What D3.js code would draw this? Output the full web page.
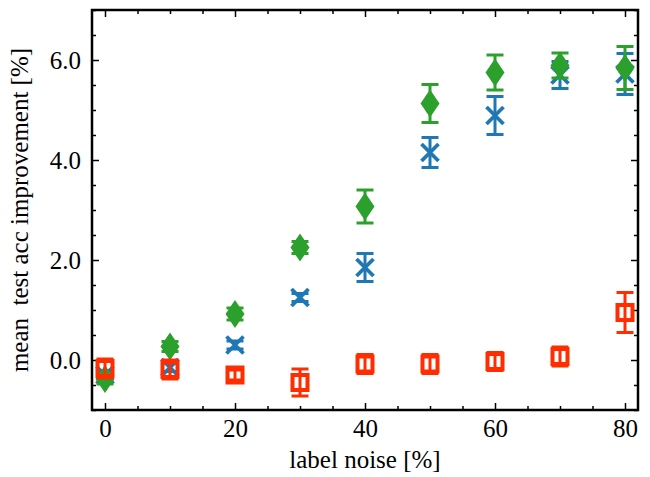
<!DOCTYPE html>
<html>
<head>
<meta charset="utf-8">
<script src="https://cdn.jsdelivr.net/npm/d3@7"></script>
<style>
  html, body { margin: 0; padding: 0; background: #fff; }
  svg { display: block; }
  text { font-family: "Liberation Serif", "DejaVu Serif", serif; fill: #000; }
</style>
</head>
<body>
<script>
const noise = [0, 10, 20, 30, 40, 50, 60, 70, 80];
const blueMean = [-0.30, -0.15, 0.30, 1.25, 1.85, 4.15, 4.89, 5.70, 5.72];
const blueErr  = [0.08, 0.08, 0.08, 0.08, 0.28, 0.30, 0.38, 0.27, 0.41];
const greenMean = [-0.38, 0.27, 0.92, 2.25, 3.07, 5.13, 5.75, 5.89, 5.84];
const greenErr  = [0.10, 0.10, 0.12, 0.12, 0.33, 0.38, 0.35, 0.25, 0.43];
const redMean = [-0.17, -0.19, -0.30, -0.45, -0.08, -0.08, -0.03, 0.07, 0.95];
const redErr  = [0.19, 0.19, 0.10, 0.27, 0.19, 0.19, 0.18, 0.19, 0.40];
const xTicks = [0, 20, 40, 60, 80];
const yTicks = [0, 2, 4, 6];
const xLabel = "label noise [%]";
const yLabel = "mean  test acc improvement [%]";

const W = 650, H = 477;
const m = { left: 92, right: 12, top: 10, bottom: 67 };
const iw = W - m.left - m.right, ih = H - m.top - m.bottom;

const svg = d3.select("body").append("svg").attr("width", W).attr("height", H);
const g = svg.append("g").attr("transform", `translate(${m.left},${m.top})`);

const x = d3.scaleLinear().domain([-2, 82]).range([0, iw]);
const y = d3.scaleLinear().domain([-1, 7]).range([ih, 0]);

const xMinor = d3.range(0, 81, 5).filter(v => !xTicks.includes(v));
const yMinor = d3.range(-1, 7.01, 0.5).filter(v => !yTicks.includes(v));

function styleAxis(sel) {
  sel.select(".domain").remove();
  sel.selectAll(".tick line").attr("stroke", "#000").attr("stroke-width", 1.5);
}

// major/minor ticks (inward) on all sides
g.append("g").attr("transform", `translate(0,${ih})`)
  .call(d3.axisBottom(x).tickValues(xTicks).tickSize(-7).tickPadding(9).tickFormat(d3.format("d")))
  .call(styleAxis)
  .selectAll("text").attr("font-size", 25).attr("dy", "0.71em");
g.append("g").attr("transform", `translate(0,${ih})`)
  .call(d3.axisBottom(x).tickValues(xMinor).tickSize(-4).tickFormat(""))
  .call(styleAxis);
g.append("g")
  .call(d3.axisTop(x).tickValues(xTicks).tickSize(-7).tickFormat(""))
  .call(styleAxis);
g.append("g")
  .call(d3.axisTop(x).tickValues(xMinor).tickSize(-4).tickFormat(""))
  .call(styleAxis);

g.append("g")
  .call(d3.axisLeft(y).tickValues(yTicks).tickSize(-7).tickPadding(11).tickFormat(d3.format(".1f")))
  .call(styleAxis)
  .selectAll("text").attr("font-size", 25);
g.append("g")
  .call(d3.axisLeft(y).tickValues(yMinor).tickSize(-4).tickFormat(""))
  .call(styleAxis);
g.append("g").attr("transform", `translate(${iw},0)`)
  .call(d3.axisRight(y).tickValues(yTicks).tickSize(-7).tickFormat(""))
  .call(styleAxis);
g.append("g").attr("transform", `translate(${iw},0)`)
  .call(d3.axisRight(y).tickValues(yMinor).tickSize(-4).tickFormat(""))
  .call(styleAxis);

// frame
g.append("rect").attr("x", 0).attr("y", 0).attr("width", iw).attr("height", ih)
  .attr("fill", "none").attr("stroke", "#000").attr("stroke-width", 2.5);

// series
function drawSeries(mean, err, color, marker) {
  const data = noise.map((n, i) => ({ n, v: mean[i], e: err[i] }));
  const s = g.append("g");
  const cap = 8.5;
  const eb = s.selectAll("g.eb").data(data).join("g").attr("class", "eb");
  eb.append("line")
    .attr("x1", d => x(d.n)).attr("x2", d => x(d.n))
    .attr("y1", d => y(d.v - d.e)).attr("y2", d => y(d.v + d.e))
    .attr("stroke", color).attr("stroke-width", 3);
  eb.append("line")
    .attr("x1", d => x(d.n) - cap).attr("x2", d => x(d.n) + cap)
    .attr("y1", d => y(d.v + d.e)).attr("y2", d => y(d.v + d.e))
    .attr("stroke", color).attr("stroke-width", 3);
  eb.append("line")
    .attr("x1", d => x(d.n) - cap).attr("x2", d => x(d.n) + cap)
    .attr("y1", d => y(d.v - d.e)).attr("y2", d => y(d.v - d.e))
    .attr("stroke", color).attr("stroke-width", 3);

  const mk = s.selectAll("g.mk").data(data).join("g").attr("class", "mk")
    .attr("transform", d => `translate(${x(d.n)},${y(d.v)})`);
  if (marker === "x") {
    const r = 8.5;
    mk.append("path").attr("d", `M${-r},${-r}L${r},${r}M${-r},${r}L${r},${-r}`)
      .attr("stroke", color).attr("stroke-width", 3.8).attr("fill", "none");
  } else if (marker === "d") {
    mk.append("path").attr("d", "M0,-14L9.5,0L0,14L-9.5,0Z").attr("fill", color);
  } else {
    mk.append("rect").attr("x", -7.5).attr("y", -7.5).attr("width", 15).attr("height", 15)
      .attr("fill", "none").attr("stroke", color).attr("stroke-width", 4);
  }
}
drawSeries(blueMean, blueErr, "#1f77b4", "x");
drawSeries(greenMean, greenErr, "#2ca02c", "d");
drawSeries(redMean, redErr, "#ff2d00", "s");

// axis labels
svg.append("text").attr("x", m.left + iw / 2).attr("y", 468)
  .attr("text-anchor", "middle").attr("font-size", 25).text(xLabel);
svg.append("text")
  .attr("transform", `translate(28,${m.top + ih / 2}) rotate(-90)`)
  .attr("text-anchor", "middle").attr("font-size", 25)
  .style("white-space", "pre").attr("xml:space", "preserve").text(yLabel);
</script>
</body>
</html>
